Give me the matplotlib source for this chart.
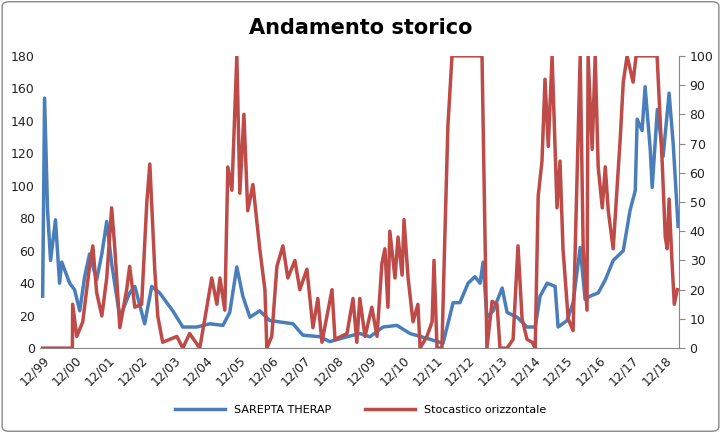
import matplotlib
matplotlib.use("Agg")
import matplotlib.pyplot as plt
from matplotlib.patches import FancyBboxPatch

# months since 12/1999
blue_m = [0,0.7,1.8,2.9,4.7,6.2,7.0,9.9,11.7,13.6,15.4,17.2,19.8,21.7,23.5,25.3,28.3,31.9,33.8,37.4,40.0,42.9,47.7,51.4,56.5,61.3,66.1,68.6,71.2,73.4,76.0,79.6,83.3,91.8,95.4,101.7,105.3,111.6,116.3,120.0,124.8,129.9,134.7,140.9,146.8,148.6,150.5,153.0,156.0,158.5,160.4,161.5,162.9,165.2,168.5,170.3,174.0,177.6,180.6,182.4,185.0,187.9,189.0,192.3,194.5,197.1,198.9,200.7,203.7,206.3,209.2,212.9,215.4,217.3,218.0,219.8,220.9,222.8,223.5,225.4,227.5,229.7,231.2,233.0]
blue_v = [32,154,85,54,79,40,53,40,36,23,44,58,42,58,78,52,19,34,38,15,38,34,23,13,13,15,14,22,50,32,19,23,17,15,8,7,4,7,9,7,13,14,9,6,3,15,28,28,40,44,40,53,19,23,37,22,19,13,13,32,40,38,13,17,28,62,30,32,34,42,54,60,85,97,141,134,161,122,99,147,118,157,126,75]
red_m = [0,10.9,11.0,12.5,14.7,17.2,18.4,19.8,21.7,23.5,25.3,26.4,28.3,30.8,31.9,33.8,36.3,38.2,39.3,41.1,42.2,44.0,49.2,51.4,53.9,57.6,60.2,62.0,63.9,65.0,66.8,67.9,69.4,71.2,72.3,73.8,75.2,77.1,79.6,81.5,82.2,84.0,85.9,88.1,89.9,92.5,94.3,96.9,99.1,100.9,102.4,106.1,107.2,111.6,113.8,115.2,116.3,118.2,120.7,122.6,124.4,125.5,126.6,127.3,129.2,130.3,131.8,132.5,134.0,135.8,137.6,138.4,140.9,142.8,143.5,144.6,146.4,147.5,148.6,150.1,161.1,161.5,162.2,162.9,164.8,166.6,167.7,170.3,172.5,174.3,175.8,177.6,179.5,180.6,181.7,183.1,184.2,185.4,186.8,188.6,189.7,190.8,192.7,194.5,197.1,198.2,199.6,200.0,201.5,202.6,203.7,205.2,206.3,207.4,209.2,210.7,211.8,212.9,214.3,216.5,217.6,225.3,226.4,227.2,228.3,229.0,229.7,230.8,231.6,232.7]
red_v = [0,0,15,4,9,28,35,19,11,24,48,35,7,20,28,14,15,50,63,27,11,2,4,0,5,0,14,24,15,24,13,62,54,100,53,80,47,56,34,20,0,4,28,35,24,30,20,27,7,17,2,20,3,5,17,2,17,4,14,4,29,34,14,40,24,38,25,44,24,9,15,0,4,9,30,0,0,39,76,100,100,77,38,0,16,15,0,0,3,35,10,3,2,0,52,64,92,69,100,48,64,34,10,6,100,34,13,100,68,100,62,48,62,47,34,56,72,91,100,91,100,100,79,63,38,34,51,29,15,20]
tick_labels = ["12/%02d" % (y % 100) for y in range(1999, 2019)]

fig = plt.figure(figsize=(7.21, 4.33), dpi=100)
fig.patches.append(FancyBboxPatch((0.003, 0.004), 0.994, 0.992, boxstyle="round,pad=0,rounding_size=0.01",
                                  transform=fig.transFigure, fill=False, edgecolor="#888888", linewidth=1))
ax = fig.add_axes([0.055, 0.196, 0.887, 0.675])
ax2 = ax.twinx()
l1, = ax.plot(blue_m, blue_v, color="#4a7ebb", lw=2.5, label="SAREPTA THERAP")
l2, = ax2.plot(red_m, red_v, color="#be4b48", lw=2.5, label="Stocastico orizzontale")
ax.set_ylim(0, 180); ax.set_yticks(range(0, 181, 20))
ax2.set_ylim(0, 100); ax2.set_yticks(range(0, 101, 10))
ax.set_xlim(-1.1, 233.4)
ax.set_xticks(range(0, 229, 12))
ax.set_xticklabels(tick_labels, rotation=45, ha="right", rotation_mode="anchor")
for a in (ax, ax2):
    for s in a.spines.values():
        s.set_visible(False)
    a.tick_params(labelsize=9, colors="#222222", length=0)
ax.spines["bottom"].set_visible(True); ax.spines["bottom"].set_color("#888888")
ax2.spines["right"].set_visible(True); ax2.spines["right"].set_color("#888888")
ax2.tick_params(axis="y", length=4, color="#888888", direction="out")
ax.tick_params(axis="x", pad=4)
fig.text(0.5, 0.935, "Andamento storico", ha="center", va="center", fontsize=15, fontweight="bold")
fig.legend(handles=[l1, l2], loc="center", bbox_to_anchor=(0.5, 0.053), ncol=2, frameon=False, fontsize=8, handlelength=4.5, columnspacing=3)
fig.savefig("out.png", dpi=100)
